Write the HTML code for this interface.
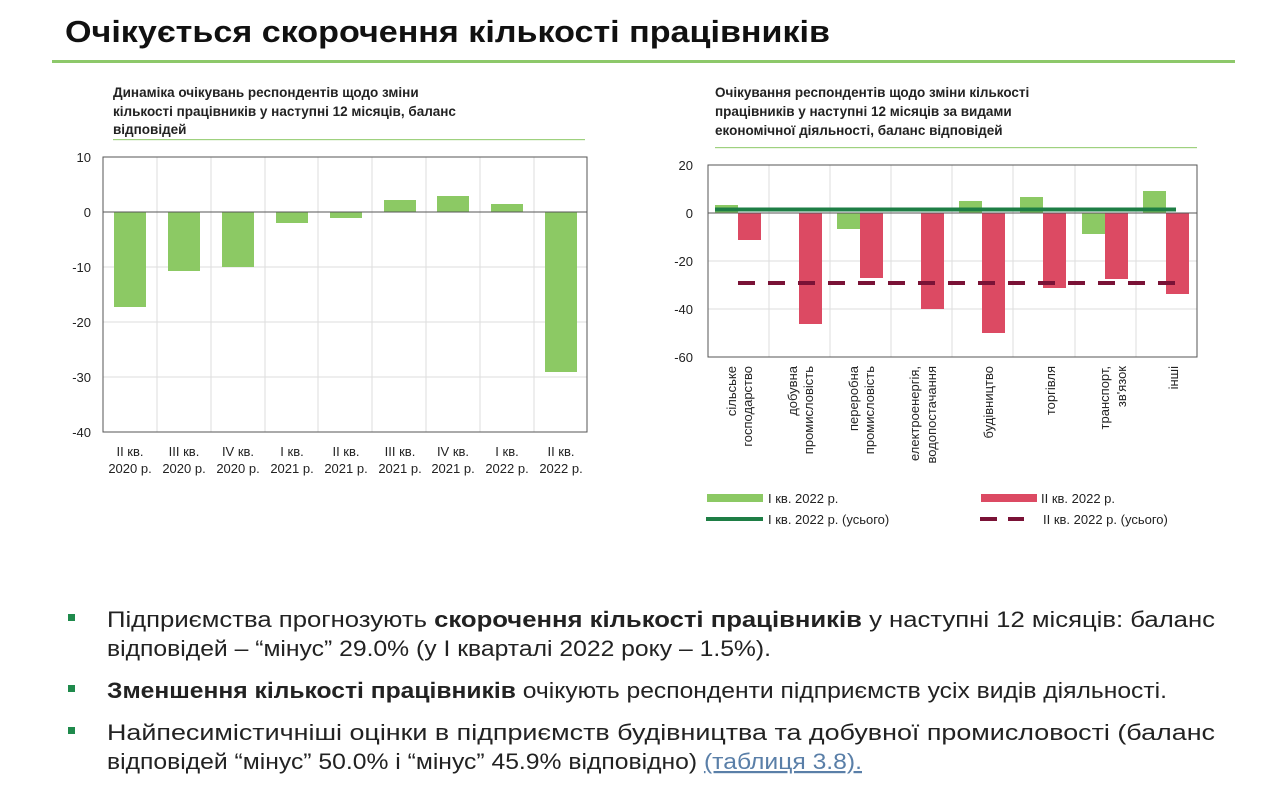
<!DOCTYPE html>
<html><head><meta charset="utf-8"><style>
html,body{margin:0;padding:0;background:#fff;}
svg{display:block;font-family:"Liberation Sans",Arial,sans-serif;}
</style></head><body>
<svg width="1280" height="793" viewBox="0 0 1280 793" xmlns="http://www.w3.org/2000/svg">
<text x="65" y="42" font-size="31" font-weight="bold" fill="#111" textLength="765" lengthAdjust="spacingAndGlyphs">Очікується скорочення кількості працівників</text>
<rect x="52" y="60" width="1183" height="3" fill="#8dc86a"/>

<g font-size="13.5" font-weight="bold" fill="#222">
<text x="113" y="97">Динаміка очікувань респондентів щодо зміни</text>
<text x="113" y="116">кількості працівників у наступні 12 місяців, баланс</text>
<text x="113" y="134">відповідей</text>
</g>
<rect x="113" y="139" width="472" height="1.2" fill="#9fd17f"/>

<g stroke="#ddd" stroke-width="1">
<line x1="103" y1="267" x2="587" y2="267"/><line x1="103" y1="322" x2="587" y2="322"/><line x1="103" y1="377" x2="587" y2="377"/>
<line x1="157" y1="157" x2="157" y2="432"/><line x1="211" y1="157" x2="211" y2="432"/><line x1="265" y1="157" x2="265" y2="432"/><line x1="318" y1="157" x2="318" y2="432"/><line x1="372" y1="157" x2="372" y2="432"/><line x1="426" y1="157" x2="426" y2="432"/><line x1="480" y1="157" x2="480" y2="432"/><line x1="534" y1="157" x2="534" y2="432"/>
</g>
<g fill="#8cc964">
<rect x="114" y="212" width="32" height="95"/>
<rect x="168" y="212" width="32" height="59"/>
<rect x="222" y="212" width="32" height="55"/>
<rect x="276" y="212" width="32" height="11"/>
<rect x="330" y="212" width="32" height="6"/>
<rect x="384" y="200" width="32" height="12"/>
<rect x="437" y="196" width="32" height="16"/>
<rect x="491" y="204" width="32" height="8"/>
<rect x="545" y="212" width="32" height="160"/>
</g>
<rect x="103" y="157" width="484" height="275" fill="none" stroke="#555" stroke-width="1"/>
<line x1="103" y1="212" x2="587" y2="212" stroke="#555"/>
<g font-size="13" fill="#222" text-anchor="end">
<text x="91" y="162">10</text><text x="91" y="217">0</text><text x="91" y="272">-10</text><text x="91" y="327">-20</text><text x="91" y="382">-30</text><text x="91" y="437">-40</text>
</g>
<g font-size="13" fill="#222" text-anchor="middle">
<text x="130" y="456">II кв.</text><text x="130" y="473">2020 р.</text>
<text x="184" y="456">III кв.</text><text x="184" y="473">2020 р.</text>
<text x="238" y="456">IV кв.</text><text x="238" y="473">2020 р.</text>
<text x="292" y="456">I кв.</text><text x="292" y="473">2021 р.</text>
<text x="346" y="456">II кв.</text><text x="346" y="473">2021 р.</text>
<text x="400" y="456">III кв.</text><text x="400" y="473">2021 р.</text>
<text x="453" y="456">IV кв.</text><text x="453" y="473">2021 р.</text>
<text x="507" y="456">I кв.</text><text x="507" y="473">2022 р.</text>
<text x="561" y="456">II кв.</text><text x="561" y="473">2022 р.</text>
</g>

<g font-size="13.5" font-weight="bold" fill="#222">
<text x="715" y="97">Очікування респондентів щодо зміни кількості</text>
<text x="715" y="116">працівників у наступні 12 місяців за видами</text>
<text x="715" y="135">економічної діяльності, баланс відповідей</text>
</g>
<rect x="715" y="147" width="482" height="1.2" fill="#9fd17f"/>

<g stroke="#ddd" stroke-width="1">
<line x1="708" y1="261" x2="1197" y2="261"/><line x1="708" y1="309" x2="1197" y2="309"/>
<line x1="769" y1="165" x2="769" y2="357"/><line x1="830" y1="165" x2="830" y2="357"/><line x1="891" y1="165" x2="891" y2="357"/><line x1="952" y1="165" x2="952" y2="357"/><line x1="1013" y1="165" x2="1013" y2="357"/><line x1="1075" y1="165" x2="1075" y2="357"/><line x1="1136" y1="165" x2="1136" y2="357"/>
</g>
<g fill="#8cc964">
<rect x="715" y="205" width="23" height="8"/>
<rect x="837" y="213" width="23" height="16"/>
<rect x="959" y="201" width="23" height="12"/>
<rect x="1020" y="197" width="23" height="16"/>
<rect x="1082" y="213" width="23" height="21"/>
<rect x="1143" y="191" width="23" height="22"/>
</g>
<g fill="#dc4a63">
<rect x="738" y="213" width="23" height="27"/>
<rect x="799" y="213" width="23" height="111"/>
<rect x="860" y="213" width="23" height="65"/>
<rect x="921" y="213" width="23" height="96"/>
<rect x="982" y="213" width="23" height="120"/>
<rect x="1043" y="213" width="23" height="75"/>
<rect x="1105" y="213" width="23" height="66"/>
<rect x="1166" y="213" width="23" height="81"/>
</g>
<rect x="708" y="165" width="489" height="192" fill="none" stroke="#555"/>
<line x1="708" y1="213" x2="1197" y2="213" stroke="#555"/>
<line x1="715" y1="209.5" x2="1176" y2="209.5" stroke="#1e7e45" stroke-width="4"/>
<line x1="738" y1="283" x2="1176" y2="283" stroke="#7a1236" stroke-width="4" stroke-dasharray="17,13"/>
<g font-size="13" fill="#222" text-anchor="end">
<text x="693" y="170">20</text><text x="693" y="218">0</text><text x="693" y="266">-20</text><text x="693" y="314">-40</text><text x="693" y="362">-60</text>
</g>
<g font-size="13" fill="#222" text-anchor="end">
<text transform="translate(736,366) rotate(-90)">сільське</text>
<text transform="translate(752,366) rotate(-90)">господарство</text>
<text transform="translate(797,366) rotate(-90)">добувна</text>
<text transform="translate(813,366) rotate(-90)">промисловість</text>
<text transform="translate(858,366) rotate(-90)">переробна</text>
<text transform="translate(874,366) rotate(-90)">промисловість</text>
<text transform="translate(919,366) rotate(-90)">електроенергія,</text>
<text transform="translate(936,366) rotate(-90)">водопостачання</text>
<text transform="translate(993,366) rotate(-90)">будівництво</text>
<text transform="translate(1055,366) rotate(-90)">торгівля</text>
<text transform="translate(1109,366) rotate(-90)">транспорт,</text>
<text transform="translate(1126,366) rotate(-90)">зв'язок</text>
<text transform="translate(1178,366) rotate(-90)">інші</text>
</g>
<rect x="707" y="494" width="56" height="8" fill="#8cc964"/>
<text x="768" y="503" font-size="13" fill="#222">I кв. 2022 р.</text>
<rect x="981" y="494" width="56" height="8" fill="#dc4a63"/>
<text x="1041" y="503" font-size="13" fill="#222">II кв. 2022 р.</text>
<line x1="706" y1="519" x2="763" y2="519" stroke="#1e7e45" stroke-width="4"/>
<text x="768" y="524" font-size="13" fill="#222">I кв. 2022 р. (усього)</text>
<line x1="980" y1="519" x2="1024" y2="519" stroke="#7a1236" stroke-width="4" stroke-dasharray="17,11"/>
<text x="1043" y="524" font-size="13" fill="#222">II кв. 2022 р. (усього)</text>

<g fill="#1f8a4c">
<rect x="68" y="614" width="7" height="7"/>
<rect x="68" y="685" width="7" height="7"/>
<rect x="68" y="727" width="7" height="7"/>
</g>
<g font-size="22" fill="#222">
<text x="107" y="627" textLength="1108" lengthAdjust="spacingAndGlyphs">Підприємства прогнозують <tspan font-weight="bold">скорочення кількості працівників</tspan> у наступні 12 місяців: баланс</text>
<text x="107" y="656" textLength="664" lengthAdjust="spacingAndGlyphs">відповідей – “мінус” 29.0% (у I кварталі 2022 року – 1.5%).</text>
<text x="107" y="698" textLength="1060" lengthAdjust="spacingAndGlyphs"><tspan font-weight="bold">Зменшення кількості працівників</tspan> очікують респонденти підприємств усіх видів діяльності.</text>
<text x="107" y="740" textLength="1108" lengthAdjust="spacingAndGlyphs">Найпесимістичніші оцінки в підприємств будівництва та добувної промисловості (баланс</text>
<text x="107" y="769" textLength="755" lengthAdjust="spacingAndGlyphs">відповідей “мінус” 50.0% і “мінус” 45.9% відповідно) <tspan fill="#5a7fa8" text-decoration="underline">(таблиця 3.8).</tspan></text>
</g>
</svg>
</body></html>
